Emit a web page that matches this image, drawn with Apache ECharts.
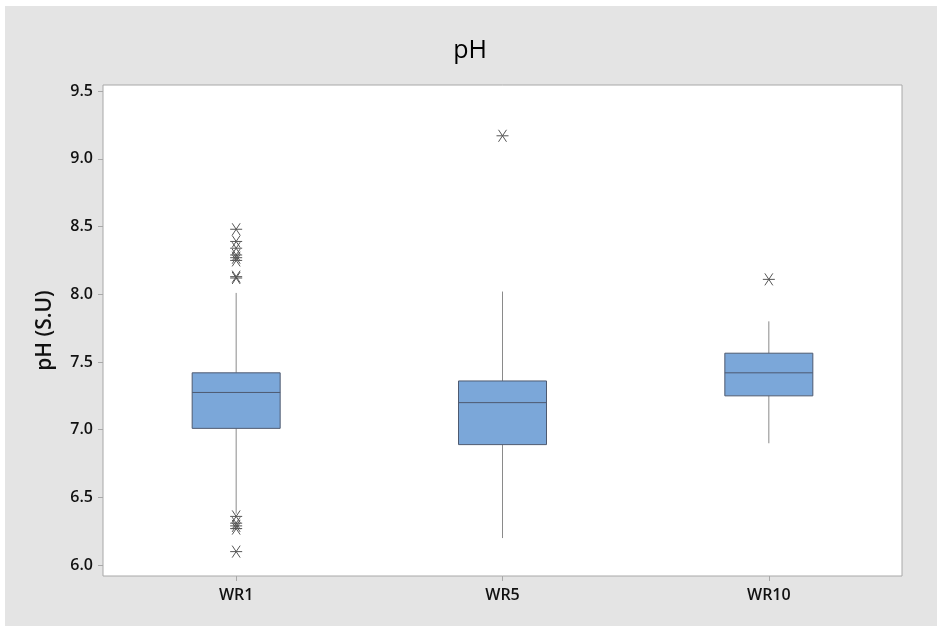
<!DOCTYPE html>
<html><head><meta charset="utf-8">
<script src="https://cdn.jsdelivr.net/npm/echarts@6/dist/echarts.min.js"></script>
<style>html,body{margin:0;padding:0;background:#fff}#c{width:940px;height:629px}</style>
</head><body><div id="c"></div>
<script>
const categories = ['WR1', 'WR5', 'WR10'];
// [lower whisker, Q1, median, Q3, upper whisker]
const boxValues = [
  [6.38, 7.01, 7.275, 7.42, 8.01],
  [6.20, 6.89, 7.20, 7.36, 8.02],
  [6.90, 7.25, 7.42, 7.565, 7.80]
];
const outliersWR1 = [8.48, 8.39, 8.34, 8.29, 8.27, 8.25, 8.13, 8.12, 6.36, 6.31, 6.29, 6.27, 6.10];
const outliersWR5 = [9.17];
const outliersWR10 = [8.11];
const yTicks = [6.0, 6.5, 7.0, 7.5, 8.0, 8.5, 9.0, 9.5];

const boxData = boxValues.map((b, i) => [i].concat(b));
const outlierData = [];
[outliersWR1, outliersWR5, outliersWR10].forEach((arr, i) => arr.forEach(v => outlierData.push([i, v])));

const font = '"Open Sans", "Noto Sans", sans-serif';
const chart = echarts.init(document.getElementById('c'), null, {renderer: 'canvas'});
chart.setOption({
  backgroundColor: '#ffffff',
  animation: false,
  graphic: [{type: 'rect', z: -10, silent: true, shape: {x: 5, y: 6, width: 932, height: 620}, style: {fill: '#e4e4e4'}}],
  title: {text: 'pH', left: 'center', top: 33, textStyle: {fontFamily: font, fontSize: 25, fontWeight: 'normal', color: '#000'}},
  grid: {left: 103, right: 38, top: 85, bottom: 53, show: true, backgroundColor: '#ffffff', borderColor: '#a8a8a8', borderWidth: 1},
  xAxis: {
    type: 'category', data: categories,
    axisLine: {show: false},
    axisTick: {show: true, alignWithLabel: true, length: 5, lineStyle: {color: '#a8a8a8'}},
    axisLabel: {fontFamily: font, fontSize: 16, fontWeight: 600, color: '#111', margin: 11},
    splitLine: {show: false}
  },
  yAxis: {
    type: 'value', min: 5.92, max: 9.545,
    name: 'pH (S.U)', nameLocation: 'middle', nameGap: 47,
    nameTextStyle: {fontFamily: font, fontSize: 21, fontWeight: 600, color: '#111'},
    axisLine: {show: false},
    axisTick: {show: true, length: 5, customValues: yTicks, lineStyle: {color: '#a8a8a8'}},
    axisLabel: {fontFamily: font, fontSize: 16, fontWeight: 600, color: '#111', margin: 10,
      customValues: yTicks, formatter: v => Number(v).toFixed(1)},
    splitLine: {show: false}
  },
  series: [
    {
      type: 'custom', data: boxData, z: 2,
      encode: {x: 0, y: [1, 2, 3, 4, 5]},
      renderItem: function (params, api) {
        const i = api.value(0);
        const lo = api.coord([i, api.value(1)]);
        const q1 = api.coord([i, api.value(2)]);
        const md = api.coord([i, api.value(3)]);
        const q3 = api.coord([i, api.value(4)]);
        const hi = api.coord([i, api.value(5)]);
        const x = q1[0], hw = 44;
        const wst = {stroke: '#8a8a8a', lineWidth: 1};
        const bst = {stroke: '#4e5a70', lineWidth: 1};
        return {type: 'group', children: [
          {type: 'line', shape: {x1: x, y1: hi[1], x2: x, y2: q3[1]}, style: wst},
          {type: 'line', shape: {x1: x, y1: q1[1], x2: x, y2: lo[1]}, style: wst},
          {type: 'rect', shape: {x: x - hw, y: q3[1], width: hw * 2, height: q1[1] - q3[1]}, style: {fill: '#7ba7d9', stroke: '#4e5a70', lineWidth: 1}},
          {type: 'line', shape: {x1: x - hw, y1: md[1], x2: x + hw, y2: md[1]}, style: bst}
        ]};
      }
    },
    {
      type: 'custom', data: outlierData, z: 3,
      renderItem: function (params, api) {
        const p = api.coord([api.value(0), api.value(1)]);
        const r = 6, dx = 4, dy = 6;
        const st = {stroke: '#555', lineWidth: 1};
        return {type: 'group', children: [
          {type: 'line', shape: {x1: p[0] - r, y1: p[1], x2: p[0] + r, y2: p[1]}, style: st},
          {type: 'line', shape: {x1: p[0] - dx, y1: p[1] - dy, x2: p[0] + dx, y2: p[1] + dy}, style: st},
          {type: 'line', shape: {x1: p[0] - dx, y1: p[1] + dy, x2: p[0] + dx, y2: p[1] - dy}, style: st}
        ]};
      }
    }
  ]
});
</script></body></html>
